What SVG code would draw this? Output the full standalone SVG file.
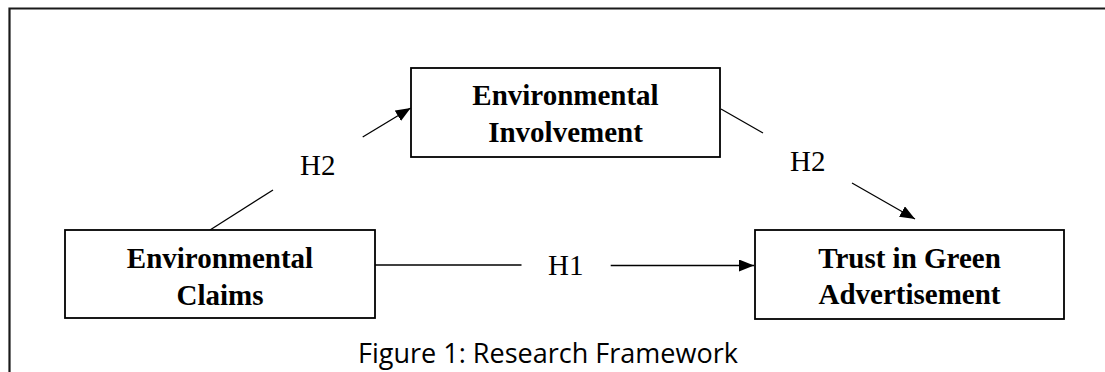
<svg xmlns="http://www.w3.org/2000/svg" width="1105" height="372" viewBox="0 0 1105 372">
  <style>
    .box { fill: #ffffff; stroke: #000000; stroke-width: 1.8; }
    .lbl { font-family: "Liberation Serif", "Times New Roman", serif; font-weight: bold; font-size: 29px; fill: #000000; text-anchor: middle; }
    .hyp { font-family: "Liberation Serif", "Times New Roman", serif; font-size: 29px; fill: #000000; }
    .conn { stroke: #000000; stroke-width: 1.3; fill: none; }
    .cap { font-family: "Open Sans", "Noto Sans", sans-serif; font-size: 28px; fill: #000000; }
  </style>
  <defs>
    <marker id="arrow" markerWidth="15" markerHeight="12" refX="15" refY="6" orient="auto" markerUnits="userSpaceOnUse">
      <path d="M0,0 L15,6 L0,12 Z" fill="#000000"/>
    </marker>
  </defs>
  <rect width="1105" height="372" fill="#ffffff"/>
  <path d="M1106,8.5 H9.5 V373" fill="none" stroke="#1a1a1a" stroke-width="2.2"/>

  <g id="connectors">
    <line class="conn" x1="210" y1="230" x2="273" y2="190"/>
    <line class="conn" x1="362.7" y1="137" x2="410.7" y2="108" marker-end="url(#arrow)"/>
    <line class="conn" x1="721" y1="109" x2="763" y2="133"/>
    <line class="conn" x1="852" y1="183" x2="915" y2="219" marker-end="url(#arrow)"/>
    <line class="conn" x1="375" y1="265" x2="521.5" y2="265" stroke-width="1.6"/>
    <line class="conn" x1="610.7" y1="265.5" x2="754" y2="265.5" stroke-width="1.6" marker-end="url(#arrow)"/>
    <text class="hyp" x="300" y="175">H2</text>
    <text class="hyp" x="790" y="171">H2</text>
    <text class="hyp" x="548" y="275">H1</text>
  </g>

  <g id="node-claims">
    <rect class="box" x="65" y="230" width="310" height="88"/>
    <text class="lbl" x="220" y="268">Environmental</text>
    <text class="lbl" x="220" y="305">Claims</text>
  </g>

  <g id="node-involvement">
    <rect class="box" x="411" y="68" width="309" height="89"/>
    <text class="lbl" x="565.5" y="105">Environmental</text>
    <text class="lbl" x="565.5" y="142">Involvement</text>
  </g>

  <g id="node-trust">
    <rect class="box" x="755" y="230" width="309" height="89"/>
    <text class="lbl" x="909.5" y="268">Trust in Green</text>
    <text class="lbl" x="909.5" y="304">Advertisement</text>
  </g>

  <text class="cap" x="358" y="363" textLength="380" lengthAdjust="spacingAndGlyphs">Figure 1: Research Framework</text>
</svg>
